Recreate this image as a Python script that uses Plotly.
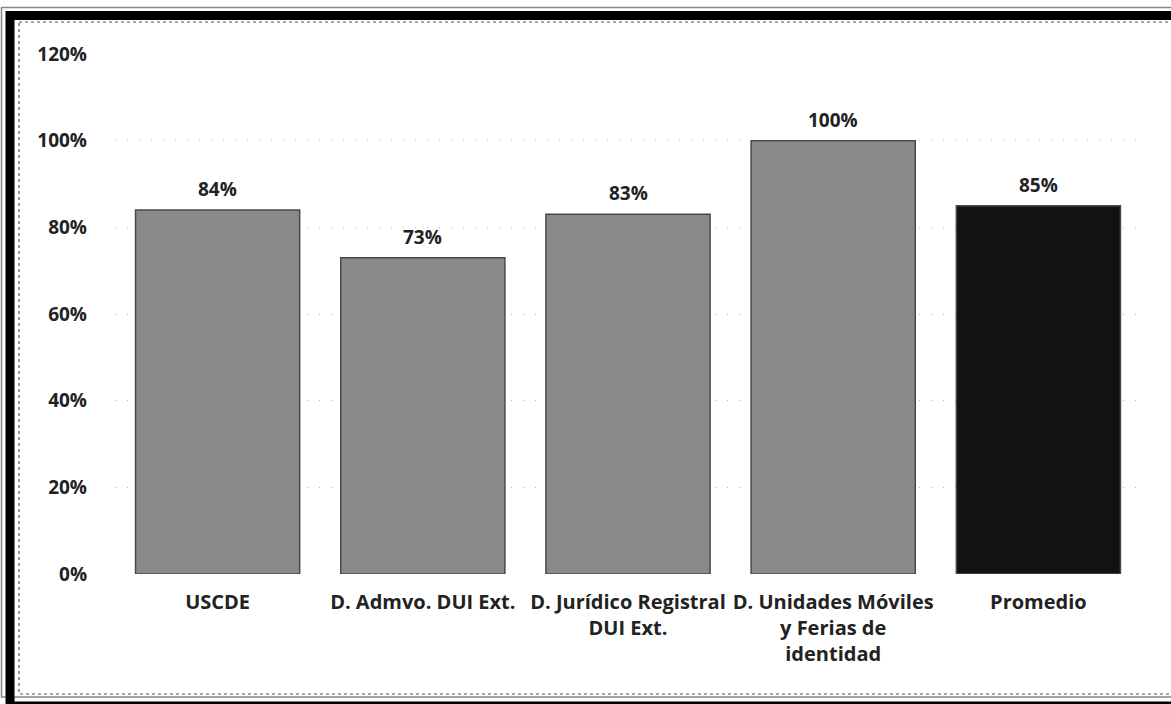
import plotly.graph_objects as go

categories = ["USCDE", "D. Admvo. DUI Ext.", "D. Jurídico Registral<br>DUI Ext.",
              "D. Unidades Móviles<br>y Ferias de<br>identidad", "Promedio"]
values = [0.84, 0.73, 0.83, 1.00, 0.85]
labels = ["84%", "73%", "83%", "100%", "85%"]
bar_colors = ["#8a8a8a", "#8a8a8a", "#8a8a8a", "#8a8a8a", "#121212"]
y_ticks = [0, 0.2, 0.4, 0.6, 0.8, 1.0, 1.2]
y_tick_text = ["0%", "20%", "40%", "60%", "80%", "100%", "120%"]

FONT = "Open Sans, Lato, sans-serif"
W, H = 1171, 704
ML, MR, MT, MB = 115, 30, 54, 130
PW, PH = W - ML - MR, H - MT - MB

def px(x):
    return (x - ML) / PW

def py(y):
    return (H - MB - y) / PH

fig = go.Figure()
fig.add_trace(go.Bar(
    x=categories, y=values,
    marker=dict(color=bar_colors, line=dict(color="#4a4a4a", width=1.5)),
    width=0.8, hoverinfo="skip",
))

for c, v, t in zip(categories, values, labels):
    fig.add_annotation(x=c, y=v, text=t, showarrow=False, yanchor="bottom",
                       yshift=6, font=dict(family=FONT, size=19, color="#222222", weight="bold"))

shapes = []
shapes.append(dict(type="rect", xref="paper", yref="paper",
                   x0=px(1.5), x1=px(1185), y0=py(7.5), y1=py(697),
                   line=dict(color="#888888", width=1.5)))
shapes.append(dict(type="rect", xref="paper", yref="paper",
                   x0=px(10), x1=px(1190), y0=py(15.5), y1=py(706),
                   line=dict(color="#000000", width=9)))
shapes.append(dict(type="rect", xref="paper", yref="paper",
                   x0=px(19), x1=px(1185), y0=py(22), y1=py(694),
                   line=dict(color="#555555", width=1.2, dash="dot")))

fig.update_layout(
    width=W, height=H,
    margin=dict(l=ML, r=MR, t=MT, b=MB),
    paper_bgcolor="white", plot_bgcolor="white",
    showlegend=False, bargap=0.2, shapes=shapes,
    font=dict(family=FONT, size=19, color="#222222"),
    xaxis=dict(showgrid=False, showline=False, ticks="",
               tickfont=dict(family=FONT, size=20, color="#222222", weight="bold"),
               ticklabelstandoff=14),
    yaxis=dict(range=[0, 1.2], tickvals=y_ticks, ticktext=y_tick_text,
               showgrid=True, gridcolor="#b8b8b8", griddash="1px,11px", gridwidth=1,
               zeroline=False, showline=False, ticks="",
               tickfont=dict(family=FONT, size=19, color="#222222", weight="bold"),
               ticklabelstandoff=27),
)

fig.write_html("out.html", config={"displayModeBar": False},
               post_script="document.body.style.margin='0';document.body.style.padding='0';")
